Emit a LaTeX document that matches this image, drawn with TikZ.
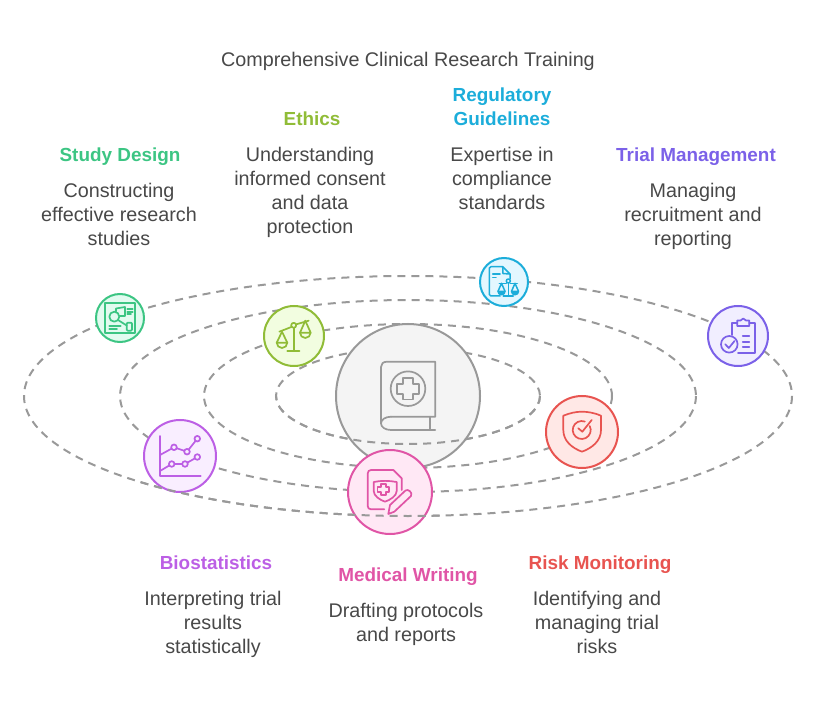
\documentclass[tikz,border=0pt]{standalone}
\usepackage{fontspec}
\setmainfont{Liberation Sans}
\definecolor{txt}{HTML}{484848}
\definecolor{orb}{HTML}{999999}
\definecolor{cenf}{HTML}{F4F4F4}
\definecolor{sdc}{HTML}{3CC583}\definecolor{sdf}{HTML}{E2FBF0}
\definecolor{etc}{HTML}{90BC37}\definecolor{etf}{HTML}{F2FDE0}
\definecolor{rgc}{HTML}{1CADDA}\definecolor{rgf}{HTML}{E3F7FF}
\definecolor{tmc}{HTML}{7B61E8}\definecolor{tmf}{HTML}{F1EEFF}
\definecolor{rmc}{HTML}{E85450}\definecolor{rmf}{HTML}{FFE8E6}
\definecolor{mwc}{HTML}{E055A6}\definecolor{mwf}{HTML}{FFE8F5}
\definecolor{bsc}{HTML}{BC5FE5}\definecolor{bsf}{HTML}{F9EEFF}
\newcommand\st{\rule[-6pt]{0pt}{24pt}}
\tikzset{
 orbit/.style={draw=orb,line width=2pt,dash pattern=on 8pt off 6pt},
 planet/.style n args={3}{circle,draw=#1,fill=#2,line width=2pt,minimum size=#3,inner sep=0pt,outer sep=0pt},
 ico/.style={line width=1.7pt,line join=round,line cap=round},
 body/.style={font=\fontsize{19.75}{24}\selectfont,text=txt,align=center,inner sep=0pt},
 head/.style={font=\fontsize{18.9}{24}\selectfont\bfseries,align=center,inner sep=0pt},
}
\begin{document}
\begin{tikzpicture}[x=1pt,y=-1pt]
\useasboundingbox (0,0) rectangle (816,708);
\coordinate (c) at (408,396);
% orbits
\draw[orbit] (c) ellipse [x radius=384,y radius=120];
\draw[orbit] (c) ellipse [x radius=288,y radius=96];
\draw[orbit] (c) ellipse [x radius=204,y radius=72];
\draw[orbit] (c) ellipse [x radius=132,y radius=48];
% centre
\node[planet={orb}{cenf}{144pt}] (centre) at (c) {};
\draw[orbit] (540,396) arc [start angle=0,end angle=-180,x radius=132,y radius=-48];
\draw[orb,ico] (391,416.7) -- (435.3,416.7) -- (435.3,361.7) -- (387,361.7) .. controls (383,361.7) and (381,364) .. (381,367) -- (381,423.3) .. controls (381,427) and (385,430) .. (391,430) -- (435.3,430);
\draw[orb,ico] (391,416.7) .. controls (385,416.7) and (381,420) .. (381,423.3);
\draw[orb,ico] (430,416.7) -- (430,430);
\draw[orb,ico] (408,388.7) circle (17.3);
\draw[orb,ico] (403,378) -- (413,378) -- (413,383.7) -- (418.8,383.7) -- (418.8,393.7) -- (413,393.7) -- (413,399.5) -- (403,399.5) -- (403,393.7) -- (397.2,393.7) -- (397.2,383.7) -- (403,383.7) -- cycle;
% planets
\node[planet={sdc}{sdf}{48pt}] (study) at (120,318) {};
\node[planet={etc}{etf}{60pt}] (ethics) at (294,336) {};
\node[planet={rgc}{rgf}{48pt}] (reg) at (504,282) {};
\node[planet={tmc}{tmf}{60pt}] (trial) at (738,336) {};
\node[planet={rmc}{rmf}{72pt}] (risk) at (582,432) {};
\node[planet={bsc}{bsf}{72pt}] (bio) at (180,456) {};
\node[planet={mwc}{mwf}{84pt}] (med) at (390,492) {};
% outer orbit bottom passes in front of the lower planets
\begin{scope}
\clip (140,480) rectangle (440,530);
\draw[orbit] (792,396) arc [start angle=0,end angle=-180,x radius=384,y radius=-120];
\end{scope}
% study icon
\begin{scope}[sdc,ico]
\draw (105,303.3) rectangle (135,332.7);
\draw (114.3,316.7) circle (5);
\draw (116,311.5) -- (116,308.5) -- (125,307) -- (125,316) -- (119.5,316);
\draw (118,320) -- (126.7,325.5);
\draw[rounded corners=1pt] (126.7,322.7) rectangle (132,330.7);
\draw (127.3,309.3) -- (132.7,309.3) (127.3,312) -- (132.7,312) (127.3,314.3) -- (131,314.3);
\draw (109.3,326) -- (120.7,326) (109.3,328.7) -- (117,328.7);
\end{scope}
% ethics icon
\begin{scope}[etc,ico]
\draw (293.7,327.8) -- (293.7,351) (287.3,351) -- (299.5,351);
\draw (293.7,325.3) circle (2.5);
\draw (279.3,331.7) -- (291.3,327) (296,324.4) -- (308.7,320.7);
\draw (282,331.7) -- (276.7,342.7) -- (287.3,342.7) -- cycle;
\draw (276.7,342.7) arc [start angle=180,end angle=360,radius=5.3,y radius=-5.3];
\draw (305.3,320.7) -- (300,332.7) -- (310.7,332.7) -- cycle;
\draw (300,332.7) arc [start angle=180,end angle=360,radius=5.3,y radius=-5.3];
\end{scope}
% regulatory icon
\begin{scope}[rgc,ico,line width=1.5pt]
\draw (500,296) -- (491,296) -- (489.3,294.5) -- (489.3,268) -- (491,266.7) -- (502.7,266.7) -- (510,274) -- (510,279);
\draw (502.7,267) -- (503,273.5) -- (509.5,274);
\draw (492.7,274) -- (500,274) (492.7,277.5) -- (496,277.5);
\draw (508.3,283) -- (508.3,296) (503.3,296) -- (513.3,296);
\draw (508.3,281) circle (2);
\draw (499.3,283.3) -- (506.3,283.3) (510.3,283.3) -- (517.3,283.3);
\draw[fill=rgc] (498,291.3) arc [start angle=180,end angle=360,radius=3.5,y radius=-3.5] -- cycle;
\draw[fill=rgc] (511.5,291.3) arc [start angle=180,end angle=360,radius=3.5,y radius=-3.5] -- cycle;
\draw (501.5,283.3) -- (498,291.3) (501.5,283.3) -- (505,291.3) (515,283.3) -- (511.5,291.3) (515,283.3) -- (518.5,291.3);
\end{scope}
% trial icon
\begin{scope}[tmc,ico]
\draw (731.7,335) -- (731.7,322.7) -- (737.3,322.7) (749.3,322.7) -- (755,322.7) -- (755,352.7) -- (738,352.7);
\draw (737.3,320.5) -- (740.5,320.5) -- (743.3,318.5) -- (746,320.5) -- (749.3,320.5) -- (749.3,326) -- (737.3,326) -- cycle;
\draw (729.3,344.3) circle (8.3);
\draw (725.3,344.3) -- (728.8,348) -- (734.5,341);
\draw (742.7,336) -- (749.3,336) (742.7,341.7) -- (749.3,341.7) (742.7,347.3) -- (749.3,347.3);
\end{scope}
% risk icon
\begin{scope}[rmc,ico]
\draw (563.3,415.7) .. controls (570,413) and (576,411.7) .. (582,411.7) .. controls (588,411.7) and (595,413) .. (601,415.7) -- (601,430) .. controls (601,441) and (592,448) .. (582,451.7) .. controls (572,448) and (563.3,441) .. (563.3,430) -- cycle;
\draw (589.8,426.05) arc [start angle=-26,end angle=290,radius=9];
\draw (578.3,428.3) -- (582.3,431.7) -- (591.7,420);
\end{scope}
% biostat icon
\begin{scope}[bsc,ico]
\draw (160,436) -- (160,476) -- (200.7,476);
\draw (160,455) -- (174,447.3) -- (187,451.7) -- (197.3,438.7);
\draw (160,471) -- (171.7,464) -- (185,464) -- (197.3,457);
\foreach \p in {(174,447.3),(187,451.7),(197.3,438.7),(171.7,464),(185,464),(197.3,457)}
  \draw[fill=bsf] \p circle (2.8);
\end{scope}
% medical icon
\begin{scope}[mwc,ico]
\draw (384.3,509.3) -- (371,509.3) .. controls (369,509.3) and (367.7,508) .. (367.7,506) -- (367.7,473.5) .. controls (367.7,471.5) and (369,470) .. (371,470) -- (393.3,470) -- (401.7,478.3) -- (401.7,490);
\draw (373.7,482) .. controls (381,480.5) and (389,480.5) .. (396.7,482) -- (396.7,491) .. controls (396.7,496) and (390,500) .. (385,501.7) .. controls (380,500) and (373.7,496) .. (373.7,491) -- cycle;
\draw (381,484) -- (386,484) -- (386,487) -- (389.3,487) -- (389.3,492) -- (386,492) -- (386,495) -- (381,495) -- (381,492) -- (377.6,492) -- (377.6,487) -- (381,487) -- cycle;
\draw (388.3,514) -- (390,505) -- (405.5,490.5) .. controls (408,488.5) and (413,492.5) .. (411,496) -- (394.3,511.7) -- cycle;
\end{scope}
% texts
\node[body] (title) at (408,61) {\st Comprehensive Clinical Research Training};
\node[head,text=sdc] (h1) at (120,156) {\st Study Design};
\node[body] (b1) at (119,216) {\st Constructing\\\st effective research\\\st studies};
\node[head,text=etc] (h2) at (312,120) {\st Ethics};
\node[body] (b2) at (310,192) {\st Understanding\\\st informed consent\\\st and data\\\st protection};
\node[head,text=rgc] (h3) at (502,108) {\st Regulatory\\\st Guidelines};
\node[body] (b3) at (502,180) {\st Expertise in\\\st compliance\\\st standards};
\node[head,text=tmc] (h4) at (696,156) {\st Trial Management};
\node[body] (b4) at (693,216) {\st Managing\\\st recruitment and\\\st reporting};
\node[head,text=bsc] (h5) at (216,563) {\st Biostatistics};
\node[body] (b5) at (213,623) {\st Interpreting trial\\\st results\\\st statistically};
\node[head,text=mwc] (h6) at (408,575) {\st Medical Writing};
\node[body] (b6) at (406,623) {\st Drafting protocols\\\st and reports};
\node[head,text=rmc] (h7) at (600,563) {\st Risk Monitoring};
\node[body] (b7) at (597,623) {\st Identifying and\\\st managing trial\\\st risks};
\end{tikzpicture}
\end{document}
